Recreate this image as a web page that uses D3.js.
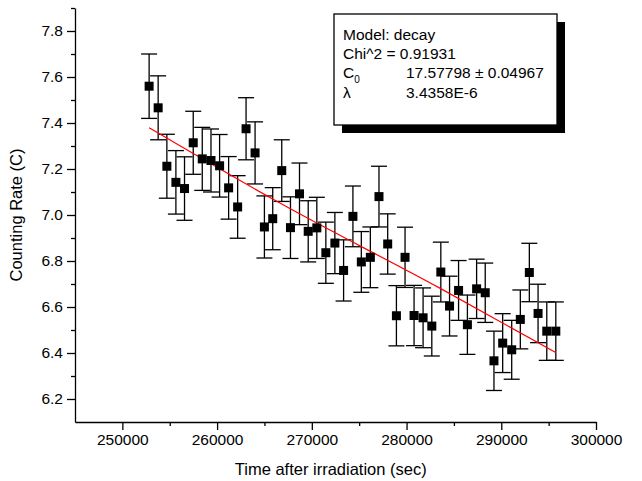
<!DOCTYPE html>
<meta charset="utf-8">
<div id="area"></div>
<script src="https://cdn.jsdelivr.net/npm/d3@7"></script>
<style>
  body { margin: 0; background: #fff; font-family: "Liberation Sans", Arial, Helvetica, sans-serif; }
  .axis text { font-family: "Liberation Sans", Arial, sans-serif; font-size: 15.5px; fill: #000; }
  .axis path, .axis line { stroke: #000; stroke-width: 1.3; }
</style>
<script>
// measured points
var times = [252825, 253778, 254698, 255651, 256561, 257482, 258434, 259355, 260265, 261217,
             262169, 263058, 264010, 264995, 265873, 266825, 267746, 268699, 269619, 270529,
             271481, 272434, 273354, 274339, 275227, 276180, 277090, 278010, 278931, 279841,
             280794, 281746, 282667, 283619, 284540, 285492, 286424, 287397, 288307, 289228,
             290148, 291101, 292011, 292963, 293884, 294804, 295757];
var rates = [7.560, 7.466, 7.212, 7.142, 7.115, 7.314, 7.244, 7.237, 7.214, 7.118,
             7.035, 7.375, 7.270, 6.948, 6.984, 7.193, 6.945, 7.092, 6.929, 6.944,
             6.836, 6.878, 6.759, 6.994, 6.796, 6.816, 7.080, 6.874, 6.562, 6.816,
             6.563, 6.553, 6.517, 6.752, 6.604, 6.672, 6.523, 6.679, 6.662, 6.366,
             6.443, 6.414, 6.546, 6.750, 6.572, 6.495, 6.495];
var errs  = [0.140, 0.139, 0.139, 0.138, 0.138, 0.137, 0.137, 0.137, 0.136, 0.136,
             0.136, 0.135, 0.135, 0.135, 0.135, 0.134, 0.134, 0.134, 0.133, 0.133,
             0.133, 0.133, 0.133, 0.132, 0.132, 0.132, 0.132, 0.131, 0.131, 0.131,
             0.131, 0.130, 0.130, 0.130, 0.130, 0.130, 0.129, 0.129, 0.129, 0.129,
             0.128, 0.128, 0.128, 0.127, 0.127, 0.127, 0.127];

// fitted curve
var fitTimes = [252825, 266582, 283512, 295757];
var fitRates = [7.379, 7.053, 6.682, 6.402];

var xTicks = [250000, 260000, 270000, 280000, 290000, 300000];
var xMinor = [255000, 265000, 275000, 285000, 295000];
var yTicks = [6.2, 6.4, 6.6, 6.8, 7.0, 7.2, 7.4, 7.6, 7.8];
var yMinor = [6.3, 6.5, 6.7, 6.9, 7.1, 7.3, 7.5, 7.7, 7.9];

var legendLines = [
  ["Model: decay", ""],
  ["Chi^2 = 0.91931", ""],
  ["C", "17.57798 \u00b1 0.04967"],
  ["\u03bb", "3.4358E-6"]
];

var margin = {top: 8, left: 75},
    width = 521, height = 414;

var svg = d3.select("#area").append("svg")
    .attr("width", 642).attr("height", 481)
  .append("g")
    .attr("transform", "translate(" + margin.left + "," + margin.top + ")");

var x = d3.scaleLinear().domain([245000, 300000]).range([0, width]);
var y = d3.scaleLinear().domain([6.1, 7.9]).range([height, 0]);

// minor ticks
svg.append("g").attr("class", "axis")
  .attr("transform", "translate(0," + height + ")")
  .call(d3.axisBottom(x).tickValues(xMinor).tickSize(4).tickFormat(""))
  .select(".domain").remove();
svg.append("g").attr("class", "axis")
  .call(d3.axisLeft(y).tickValues(yMinor).tickSize(4).tickFormat(""))
  .select(".domain").remove();

// X axis
svg.append("g").attr("class", "axis")
  .attr("transform", "translate(0," + height + ")")
  .call(d3.axisBottom(x).tickValues(xTicks).tickSize(8).tickSizeOuter(0).tickPadding(4)
        .tickFormat(d3.format("d")));

// Y axis
svg.append("g").attr("class", "axis")
  .call(d3.axisLeft(y).tickValues(yTicks).tickSize(8).tickSizeOuter(0).tickPadding(4)
        .tickFormat(d3.format(".1f")));

// axis titles
svg.append("text")
  .attr("x", x(272000)).attr("y", height + 53)
  .attr("text-anchor", "middle")
  .style("font-size", "16.5px")
  .text("Time after irradiation (sec)");
svg.append("text")
  .attr("transform", "translate(" + (-53) + "," + y(7.0) + ")rotate(-90)")
  .attr("text-anchor", "middle")
  .style("font-size", "16.5px")
  .text("Counting Rate (C)");

var data = times.map(function(t, i) { return {t: t, c: rates[i], e: errs[i]}; });

// error bars
var bars = svg.append("g").attr("stroke", "#000").attr("stroke-width", 1.3);
data.forEach(function(d) {
  var cx = x(d.t), y1 = y(d.c + d.e), y2 = y(d.c - d.e);
  bars.append("line").attr("x1", cx).attr("x2", cx).attr("y1", y1).attr("y2", y2);
  bars.append("line").attr("x1", cx - 8).attr("x2", cx + 8).attr("y1", y1).attr("y2", y1);
  bars.append("line").attr("x1", cx - 8).attr("x2", cx + 8).attr("y1", y2).attr("y2", y2);
});

// fit line
svg.append("path")
  .datum(fitTimes.map(function(t, i) { return [t, fitRates[i]]; }))
  .attr("fill", "none")
  .attr("stroke", "#ff0000")
  .attr("stroke-width", 1.2)
  .attr("d", d3.line().curve(d3.curveMonotoneX)
      .x(function(d) { return x(d[0]); })
      .y(function(d) { return y(d[1]); }));

// squares
svg.append("g").selectAll("rect")
  .data(data).enter().append("rect")
    .attr("x", function(d) { return x(d.t) - 4.5; })
    .attr("y", function(d) { return y(d.c) - 4.5; })
    .attr("width", 9).attr("height", 9)
    .attr("fill", "#000");

// legend box
var lg = d3.select("svg").append("g").attr("transform", "translate(334,14)");
lg.append("rect").attr("x", 8).attr("y", 8).attr("width", 223).attr("height", 111).attr("fill", "#000");
lg.append("rect").attr("x", 0).attr("y", 0).attr("width", 223).attr("height", 111)
  .attr("fill", "#fff").attr("stroke", "#000").attr("stroke-width", 1.3);
legendLines.forEach(function(l, i) {
  var t = lg.append("text").attr("x", 9).attr("y", 26 + i * 19.2).style("font-size", "15.5px").text(l[0]);
  if (i === 2) t.append("tspan").attr("dy", 5).style("font-size", "10px").text("0");
  if (l[1]) lg.append("text").attr("x", 72).attr("y", 26 + i * 19.2).style("font-size", "15.5px").text(l[1]);
});
</script>
